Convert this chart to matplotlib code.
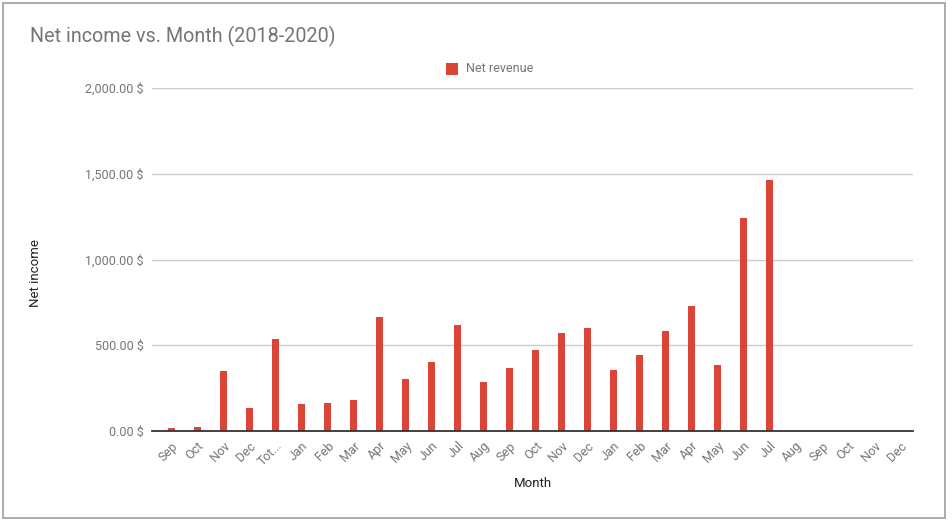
import matplotlib.pyplot as plt
from matplotlib.patches import Rectangle
from matplotlib.ticker import FuncFormatter

plt.rcParams['font.family'] = ['Roboto', 'DejaVu Sans']

# month labels as shown on the x axis (2018 tail, total, 2019, 2020)
months = ['Sep', 'Oct', 'Nov', 'Dec', 'Tot...',
          'Jan', 'Feb', 'Mar', 'Apr', 'May', 'Jun', 'Jul', 'Aug', 'Sep', 'Oct', 'Nov', 'Dec',
          'Jan', 'Feb', 'Mar', 'Apr', 'May', 'Jun', 'Jul', 'Aug', 'Sep', 'Oct', 'Nov', 'Dec']
net_revenue = [15, 22, 350, 134, 536,
               157, 163, 181, 665, 303, 402, 618, 286, 367, 472, 571, 600,
               356, 443, 583, 729, 385, 1242, 1463, 0, 0, 0, 0, 0]
yticks = [0, 500, 1000, 1500, 2000]

red = '#db4437'
grey = '#757575'

fig = plt.figure(figsize=(9.52, 5.21), dpi=100)
ax = fig.add_axes([0.1597, 0.1727, 0.7993, 0.6584])

# outer chart border
fig.patches.append(Rectangle((0.003, 0.006), 0.990, 0.988, transform=fig.transFigure,
                             fill=False, edgecolor='#9e9e9e', linewidth=1.2))

x = range(len(months))
ax.bar(x, net_revenue, width=0.27, color=red, zorder=3)

ax.set_xlim(-0.73, len(months) - 0.5)
ax.set_ylim(0, 2000)
ax.set_yticks(yticks)
ax.yaxis.set_major_formatter(FuncFormatter(lambda v, p: f'{v:,.2f} $'))
ax.set_xticks(list(x))
ax.set_xticklabels(months, rotation=45, ha='right', va='top', rotation_mode='anchor')

ax.grid(axis='y', color='#cccccc', linewidth=1, zorder=0)
for s in ['top', 'right', 'left']:
    ax.spines[s].set_visible(False)
ax.spines['bottom'].set_color('#333333')
ax.spines['bottom'].set_linewidth(1.3)
ax.spines['bottom'].set_zorder(4)
ax.tick_params(axis='both', length=0, labelsize=9, labelcolor=grey)
ax.tick_params(axis='y', pad=6)
ax.tick_params(axis='x', pad=6)

ax.set_ylabel('Net income', fontsize=9.5, color='#222222')
ax.yaxis.set_label_coords(-0.145, 0.46)
ax.set_xlabel('Month', fontsize=9.5, color='#222222', labelpad=6)

fig.text(0.0315, 0.930, 'Net income vs. Month (2018-2020)', fontsize=14.2, color=grey,
         ha='left', va='center')

# legend at the top centre
fig.patches.append(Rectangle((0.469, 0.856), 0.0126, 0.023, transform=fig.transFigure,
                             facecolor=red, edgecolor='none'))
fig.text(0.490, 0.868, 'Net revenue', fontsize=9, color=grey, ha='left', va='center')

fig.savefig('out.png', dpi=100)
